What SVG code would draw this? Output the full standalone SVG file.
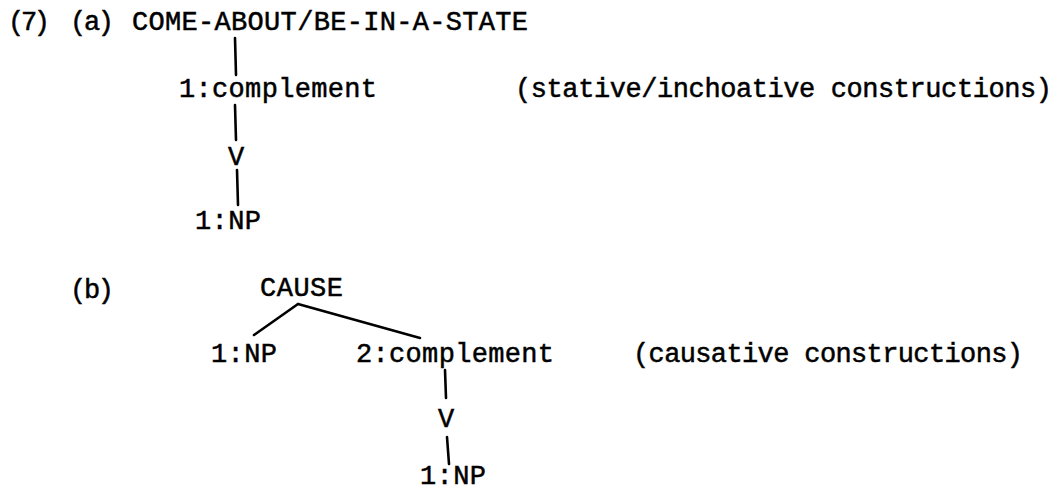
<svg xmlns="http://www.w3.org/2000/svg" width="1062" height="492" viewBox="0 0 1062 492">
  <style>
    .t { font-family: "Liberation Mono", "DejaVu Sans Mono", monospace; font-size: 27px; fill: #000; stroke: #000; stroke-width: 0.5; }
    .c { text-anchor: middle; }
    .e { stroke: #000; stroke-width: 2.6; stroke-linecap: round; fill: none; }
  </style>
  <rect width="1062" height="492" fill="#fff"/>

  <!-- example numbering -->
  <g id="labels">
    <text class="t" x="8" y="30" textLength="42" lengthAdjust="spacing">(7)</text>
    <text class="t" x="70" y="30" textLength="44" lengthAdjust="spacing">(a)</text>
    <text class="t" x="70" y="298" textLength="44" lengthAdjust="spacing">(b)</text>
  </g>

  <!-- tree (a) -->
  <g id="a-root"><text class="t" x="132" y="30" textLength="396" lengthAdjust="spacing">COME-ABOUT/BE-IN-A-STATE</text></g>
  <g id="a-complement"><text class="t" x="179" y="97" textLength="198" lengthAdjust="spacing">1:complement</text></g>
  <g id="a-note"><text class="t" x="515" y="97" textLength="537" lengthAdjust="spacing">(stative/inchoative constructions)</text></g>
  <g id="a-v"><text class="t c" x="236" y="165">V</text></g>
  <g id="a-np"><text class="t" x="195" y="229" textLength="66" lengthAdjust="spacing">1:NP</text></g>

  <!-- tree (b) -->
  <g id="b-root"><text class="t" x="260" y="296" textLength="83" lengthAdjust="spacing">CAUSE</text></g>
  <g id="b-np1"><text class="t" x="211" y="362" textLength="66" lengthAdjust="spacing">1:NP</text></g>
  <g id="b-complement"><text class="t" x="356" y="362" textLength="198" lengthAdjust="spacing">2:complement</text></g>
  <g id="b-note"><text class="t" x="633" y="362" textLength="390" lengthAdjust="spacing">(causative constructions)</text></g>
  <g id="b-v"><text class="t c" x="446" y="427">V</text></g>
  <g id="b-np2"><text class="t" x="420" y="484" textLength="66" lengthAdjust="spacing">1:NP</text></g>

  <!-- branches -->
  <g id="connectors">
    <line class="e" x1="235" y1="38" x2="236" y2="75"/>
    <line class="e" x1="235" y1="105" x2="236" y2="140"/>
    <line class="e" x1="237" y1="170" x2="238" y2="205"/>
    <line class="e" x1="298" y1="304" x2="254" y2="335"/>
    <line class="e" x1="298" y1="304" x2="420" y2="338"/>
    <line class="e" x1="445" y1="370" x2="446" y2="398"/>
    <line class="e" x1="447" y1="437" x2="449" y2="464"/>
  </g>
</svg>
